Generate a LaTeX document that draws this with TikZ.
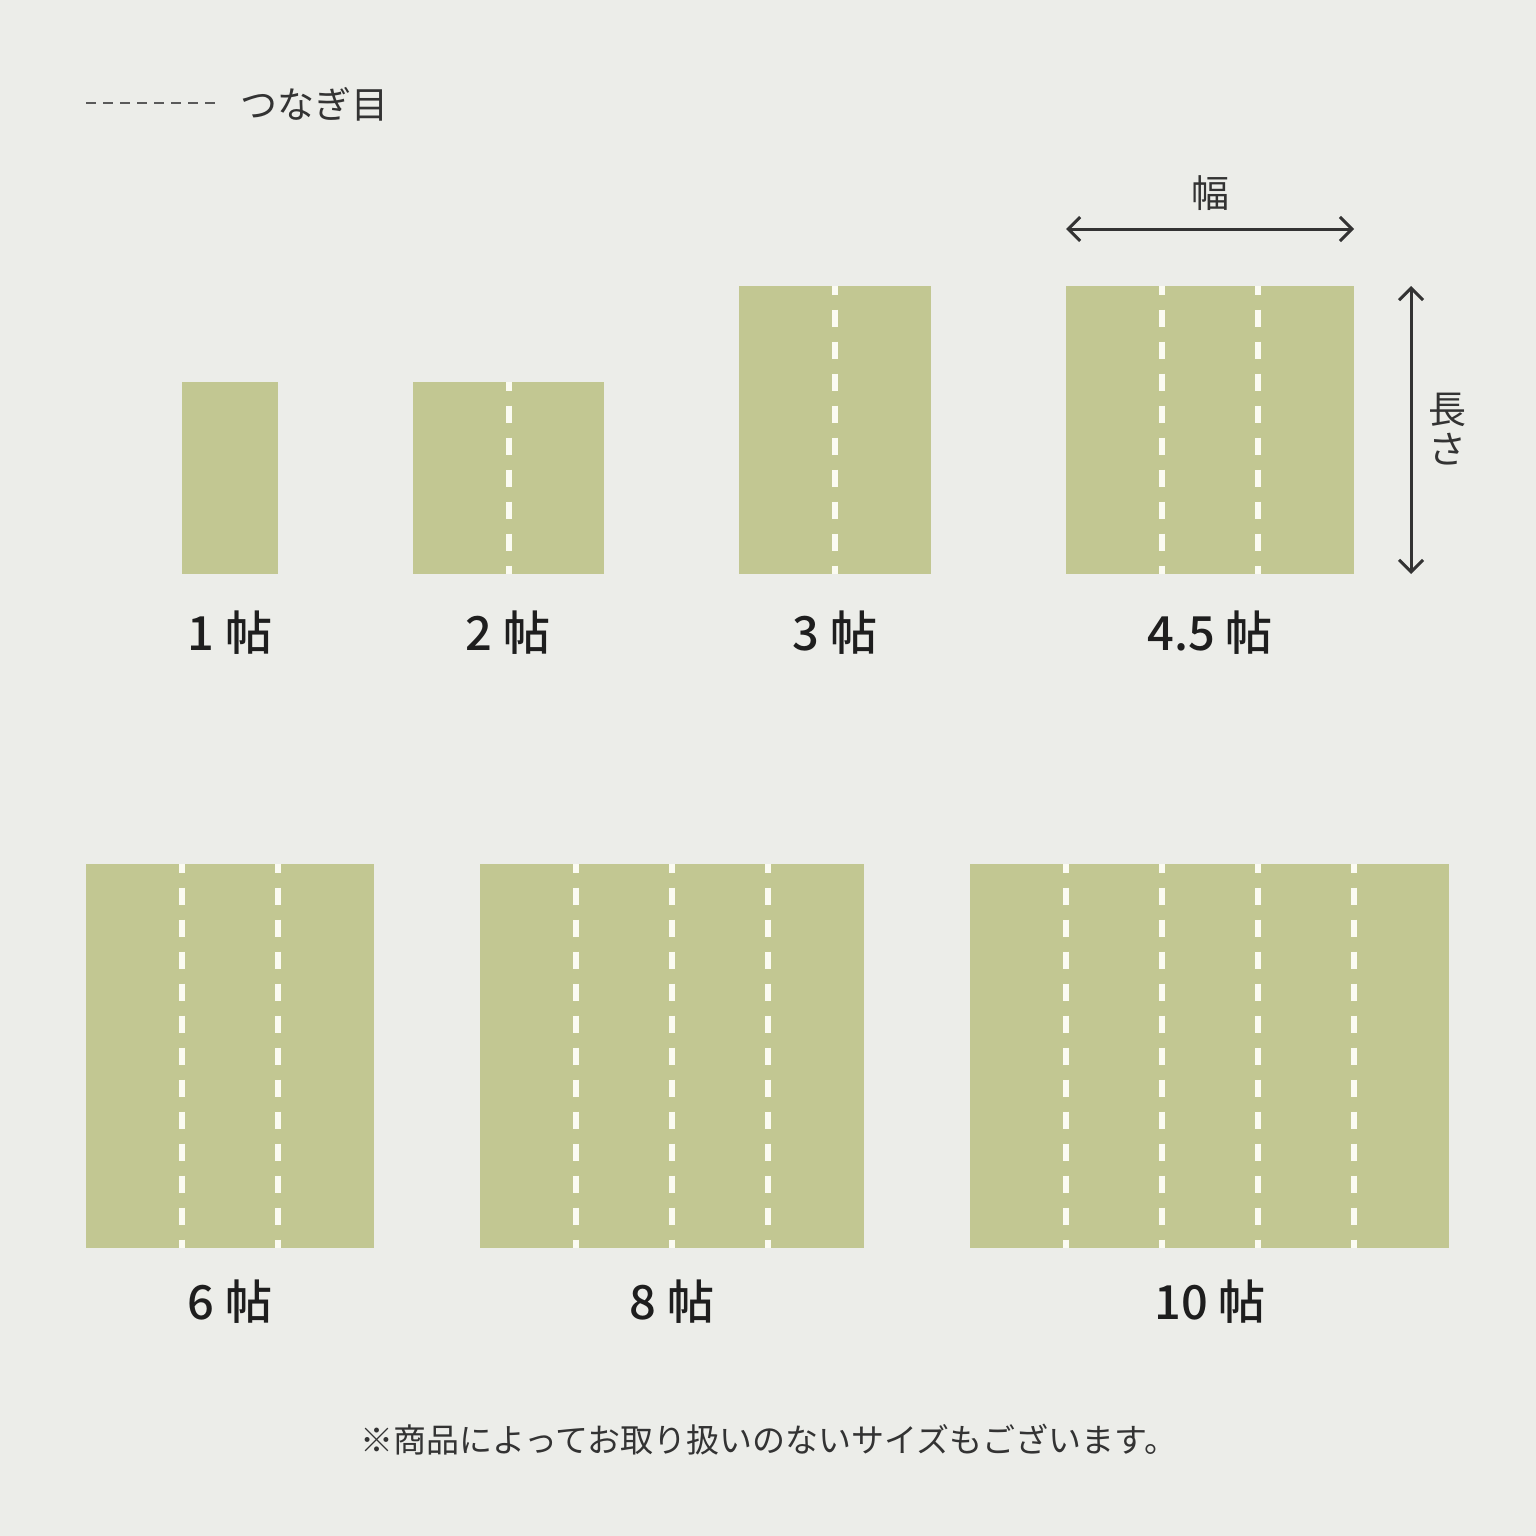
\documentclass[tikz,border=0pt]{standalone}
\usepackage{fontspec}
\setmainfont{Noto Sans CJK JP}
\newfontfamily\medfont{Noto Sans CJK JP Medium}
\usetikzlibrary{arrows.meta}
\definecolor{bg}{HTML}{ECEDE9}
\definecolor{tatami}{HTML}{C2C792}
\definecolor{seamcol}{HTML}{FBFBF2}
\definecolor{ink}{HTML}{1E1E1E}
\definecolor{inkgray}{HTML}{333333}
\definecolor{legendgray}{HTML}{5A5A5A}
\tikzset{
  matfill/.style={fill=tatami, draw=none},
  seam/.style={draw=seamcol, line width=3pt, dash pattern=on 8.5pt off 7.5pt, dash phase=4.25pt},
  legenddash/.style={draw=legendgray, line width=1.2pt, dash pattern=on 5pt off 3.5pt},
  dimarrow/.style={draw=inkgray, line width=1.5pt, {Straight Barb[length=6pt,width=12pt,line width=1.5pt]}-{Straight Barb[length=6pt,width=12pt,line width=1.5pt]}},
  sizelabel/.style={font=\fontsize{23.5}{28}\medfont, text=ink, inner sep=0pt},
  dimtxt/.style={font=\fontsize{19}{22}\selectfont, text=inkgray, inner sep=0pt},
  legendtxt/.style={font=\fontsize{18.5}{22}\selectfont, text=inkgray, inner sep=0pt},
  notetxt/.style={font=\fontsize{16.5}{20}\selectfont, text=inkgray, inner sep=0pt},
}
\begin{document}
\begin{tikzpicture}[x=0.5pt,y=-0.5pt]
\fill[bg] (0,0) rectangle (1536,1536);
\useasboundingbox (0,0) rectangle (1536,1536);

% legend
\coordinate (lgA) at (86,103);
\coordinate (lgB) at (221,103);
\draw[legenddash] (lgA) -- (lgB);
\node[legendtxt, anchor=west] (lg) at (240,104) {つなぎ目};

% 1 jo
\fill[matfill] (182,382) rectangle (278,574);
\node[sizelabel] (j1) at (230,633) {1 帖};

% 2 jo
\fill[matfill] (413,382) rectangle (604,574);
\draw[seam] (508.5,382) -- (508.5,574);
\node[sizelabel] (j2) at (508,633) {2 帖};

% 3 jo
\fill[matfill] (739,286) rectangle (931,574);
\draw[seam] (835,286) -- (835,574);
\node[sizelabel] (j3) at (835,633) {3 帖};

% 4.5 jo
\fill[matfill] (1066,286) rectangle (1354,574);
\foreach \sx in {1162,1258} \draw[seam] (\sx,286) -- (\sx,574);
\node[sizelabel] (j45) at (1210,633) {4.5 帖};

% dimensions
\coordinate (wL) at (1066,229);
\coordinate (wR) at (1354,229);
\draw[dimarrow] (wL) -- (wR);
\node[dimtxt] (wd) at (1210,193) {幅};
\coordinate (hT) at (1411,286);
\coordinate (hB) at (1411,574);
\draw[dimarrow] (hT) -- (hB);
\node[dimtxt] (ln1) at (1447,410) {長};
\node[dimtxt] (ln2) at (1447,449) {さ};

% 6 jo
\fill[matfill] (86,864) rectangle (374,1248);
\foreach \sx in {182,278} \draw[seam] (\sx,864) -- (\sx,1248);
\node[sizelabel] (j6) at (230,1302) {6 帖};

% 8 jo
\fill[matfill] (480,864) rectangle (864,1248);
\foreach \sx in {576,672,768} \draw[seam] (\sx,864) -- (\sx,1248);
\node[sizelabel] (j8) at (672,1302) {8 帖};

% 10 jo
\fill[matfill] (970,864) rectangle (1449,1248);
\foreach \sx in {1066,1162,1258,1354} \draw[seam] (\sx,864) -- (\sx,1248);
\node[sizelabel] (j10) at (1210,1302) {10 帖};

% note
\node[notetxt, anchor=west] (nt) at (360,1440) {※商品によってお取り扱いのないサイズもございます。};
\end{tikzpicture}
\end{document}
